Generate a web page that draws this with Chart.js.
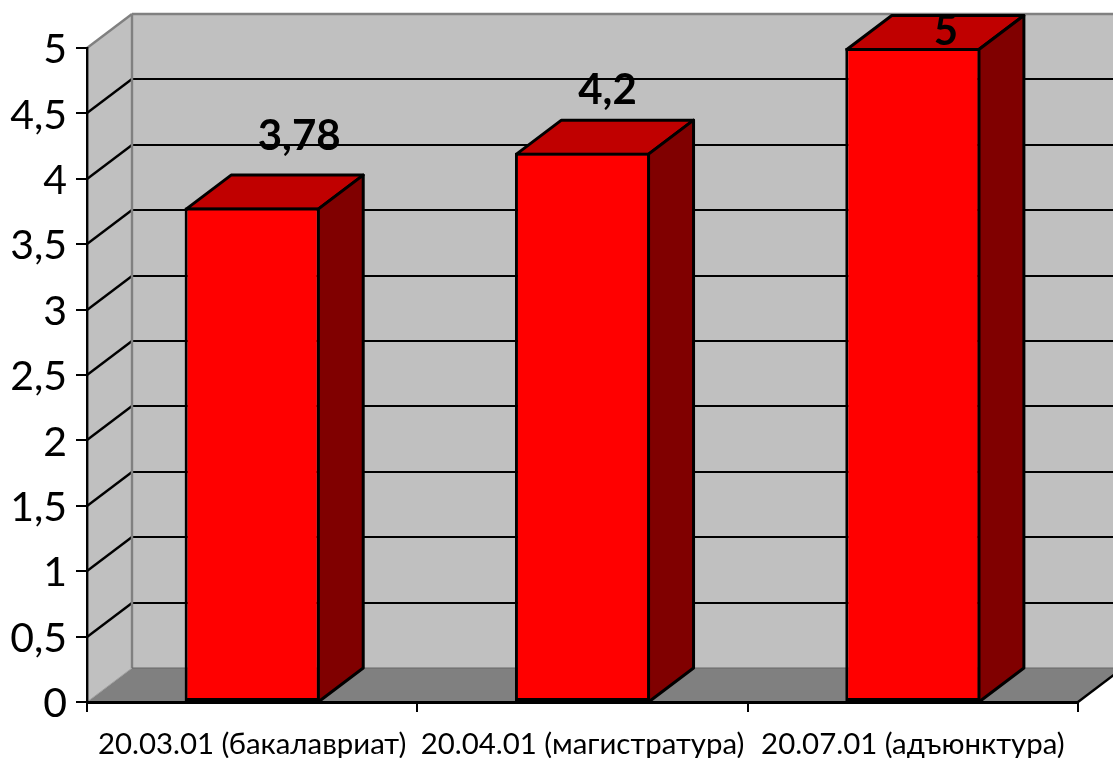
<!DOCTYPE html>
<html lang="ru">

<head>
   <meta charset="UTF-8">
   <title>Средний балл</title>
   <style>
      html, body { margin: 0; padding: 0; background: #fff; overflow: hidden; }
      canvas { display: block; }
   </style>
</head>

<body>
   <canvas id="myChart" width="1113" height="758"></canvas>

   <script src="https://cdn.jsdelivr.net/npm/chart.js"></script>

   <script>
      const categories = ['20.03.01 (бакалавриат)', '20.04.01 (магистратура)', '20.07.01 (адъюнктура)'];
      const values = [3.78, 4.2, 5];
      const valueLabels = ['3,78', '4,2', '5'];
      const yTickLabels = ['0', '0,5', '1', '1,5', '2', '2,5', '3', '3,5', '4', '4,5', '5'];

      // depth of the fake 3d box
      const DX = 45;
      const DY = 34;
      const BAR_LINE = 3;
      // hand placed value labels, relative to the bar top centre
      const labelShift = [[47, -58], [25, -49], [33, -3]];

      function poly(ctx, pts, fill, stroke, lw) {
         ctx.beginPath();
         pts.forEach(function (p, i) {
            if (i === 0) ctx.moveTo(p[0], p[1]);
            else ctx.lineTo(p[0], p[1]);
         });
         ctx.closePath();
         if (fill) {
            ctx.fillStyle = fill;
            ctx.fill();
         }
         if (stroke) {
            ctx.strokeStyle = stroke;
            ctx.lineWidth = lw;
            ctx.lineJoin = 'round';
            ctx.stroke();
         }
      }

      function line(ctx, x1, y1, x2, y2, color, lw) {
         ctx.beginPath();
         ctx.moveTo(x1, y1);
         ctx.lineTo(x2, y2);
         ctx.strokeStyle = color;
         ctx.lineWidth = lw;
         ctx.stroke();
      }

      const box3d = {
         id: 'box3d',
         // walls and floor go under the axes
         beforeDraw: function (chart) {
            const ctx = chart.ctx;
            const y = chart.scales.y;
            const a = chart.chartArea;
            const y0 = y.getPixelForValue(0);
            const y5 = y.getPixelForValue(5);
            const far = a.right + DX;

            ctx.save();
            poly(ctx, [[a.left + DX, y5 - DY], [far, y5 - DY], [far, y0 - DY], [a.left + DX, y0 - DY]], '#c0c0c0');
            poly(ctx, [[a.left, y0], [a.left + DX, y0 - DY], [a.left + DX, y5 - DY], [a.left, y5]], '#c0c0c0');
            poly(ctx, [[a.left, y0], [a.right, y0], [far, y0 - DY], [a.left + DX, y0 - DY]], '#808080');

            yTickLabels.forEach(function (t, i) {
               if (i === 0 || i === yTickLabels.length - 1) return;
               const py = Math.round(y.getPixelForValue(i * 0.5));
               line(ctx, a.left, py, a.left + DX, py - DY, '#000', 2.4);
               line(ctx, a.left + DX, py - DY, far, py - DY, '#000', 2);
            });

            line(ctx, a.left, y5, a.left + DX, y5 - DY, '#808080', 2.4);
            line(ctx, a.left + DX, y5 - DY, far, y5 - DY, '#808080', 2.4);
            line(ctx, a.left + DX, y5 - DY, a.left + DX, y0 - DY, '#808080', 2.4);
            line(ctx, a.left + DX, y0 - DY, far, y0 - DY, '#666', 1);
            line(ctx, a.left, y0, a.left + DX, y0 - DY, '#a0a0a0', 1);
            line(ctx, a.right, y0, far, y0 - DY, '#000', 2.4);
            ctx.restore();
         },
         // top and side of each bar, the front is the real bar
         beforeDatasetsDraw: function (chart) {
            const ctx = chart.ctx;
            const y0 = chart.scales.y.getPixelForValue(0);
            ctx.save();
            chart.getDatasetMeta(0).data.forEach(function (bar) {
               const l = bar.x - bar.width / 2 + BAR_LINE / 2;
               const r = bar.x + bar.width / 2 - BAR_LINE / 2;
               const t = bar.y + BAR_LINE / 2;
               poly(ctx, [[l, t], [l + DX, t - DY], [r + DX, t - DY], [r, t]], '#c00000', '#000', BAR_LINE);
               poly(ctx, [[r, t], [r + DX, t - DY], [r + DX, y0 - DY], [r, y0]], '#800000', '#000', BAR_LINE);
            });
            ctx.restore();
         },
         afterDatasetsDraw: function (chart) {
            const ctx = chart.ctx;
            ctx.save();
            ctx.font = 'bold 42px Lato';
            ctx.fillStyle = '#000';
            ctx.textAlign = 'center';
            ctx.textBaseline = 'alphabetic';
            chart.getDatasetMeta(0).data.forEach(function (bar, i) {
               ctx.fillText(valueLabels[i], bar.x + labelShift[i][0], bar.y + labelShift[i][1]);
            });
            ctx.restore();
         }
      };

      new Chart(document.getElementById('myChart'), {
         type: 'bar',
         data: {
            labels: categories,
            datasets: [{
               data: values,
               backgroundColor: '#ff0000',
               borderColor: '#000',
               borderWidth: BAR_LINE,
               borderSkipped: false,
               categoryPercentage: 1,
               barPercentage: 0.409
            }]
         },
         options: {
            responsive: false,
            animation: false,
            layout: {
               autoPadding: false,
               padding: { left: 0, right: 35, top: 48, bottom: 0 }
            },
            plugins: {
               legend: { display: false },
               title: { display: false },
               tooltip: { enabled: false }
            },
            scales: {
               x: {
                  afterFit: function (s) { s.height = 56; },
                  grid: { drawOnChartArea: false, drawTicks: true, tickLength: 10, color: '#000', lineWidth: 2 },
                  border: { color: '#000', width: 3 },
                  ticks: {
                     color: '#000',
                     font: { family: 'Lato', size: 29.4 },
                     autoSkip: false,
                     maxRotation: 0,
                     padding: 15
                  }
               },
               y: {
                  min: 0,
                  max: 5,
                  afterFit: function (s) { s.width = 87; },
                  grid: { drawOnChartArea: false, drawTicks: true, tickLength: 11, color: '#000', lineWidth: 2 },
                  border: { color: '#000', width: 2.4 },
                  ticks: {
                     stepSize: 0.5,
                     color: '#000',
                     font: { family: 'Lato', size: 41 },
                     padding: 9,
                     labelOffset: 2,
                     callback: function (v, i) { return yTickLabels[i]; }
                  }
               }
            }
         },
         plugins: [box3d]
      });
   </script>
</body>

</html>
